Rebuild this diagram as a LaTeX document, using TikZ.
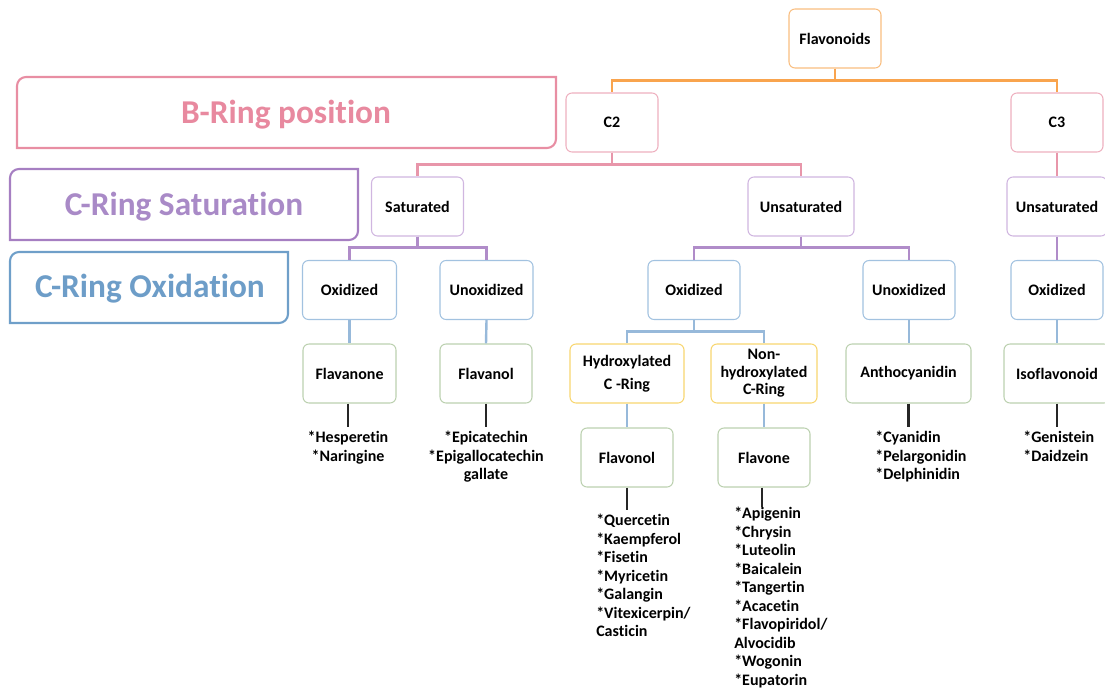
\documentclass[tikz,border=0pt]{standalone}
\usepackage{fontspec}
\setmainfont{Carlito}[Ligatures={NoCommon}]
\definecolor{orgB}{HTML}{F9BE80}
\definecolor{orgL}{HTML}{F9A44E}
\definecolor{pnkB}{HTML}{EEB0BF}
\definecolor{pnkL}{HTML}{E896AA}
\definecolor{purB}{HTML}{D0B6E0}
\definecolor{purL}{HTML}{B08CC9}
\definecolor{bluB}{HTML}{A2C2E0}
\definecolor{bluL}{HTML}{97B9DA}
\definecolor{grnB}{HTML}{BCD1B0}
\definecolor{ylwB}{HTML}{F8D670}
\definecolor{pnkT}{HTML}{E8899F}
\definecolor{purT}{HTML}{A98AC7}
\definecolor{bluT}{HTML}{6D9DC8}
\definecolor{pnkF}{HTML}{E88EA3}
\definecolor{purF}{HTML}{A67FC2}
\definecolor{bluF}{HTML}{6F9FC9}
\begin{document}
\begin{tikzpicture}[x=0.75pt,y=-0.75pt,
  box/.style={draw, fill=white, rounded corners=4.5pt, line width=0.8pt,
    align=center, inner sep=2pt, text=black,
    font=\fontsize{12}{13.2}\selectfont\bfseries, minimum height=44.25pt},
  bw/.style={minimum width=#1*0.75pt},
  conn/.style={line width=1.8pt},
  leaf/.style={line width=1.6pt, draw=black!85},
  list/.style={anchor=north, inner xsep=0pt, inner ysep=3pt, text=black,
    font=\fontsize{12}{13.9}\selectfont\bfseries},
  frame/.style={line width=1.6pt},
  bigtext/.style={anchor=base, font=\fontsize{25}{30}\selectfont\bfseries}
]
\useasboundingbox (0,0) rectangle (1105,688);

% level captions on the left
\draw[frame, pnkF] (17,148) -- (17,86) arc[start angle=180,end angle=270,radius=9]
  -- (556,77) -- (556,139) arc[start angle=0,end angle=90,radius=9] -- cycle;
\draw[frame, purF] (10,240) -- (10,178) arc[start angle=180,end angle=270,radius=9]
  -- (358,169) -- (358,231) arc[start angle=0,end angle=90,radius=9] -- cycle;
\draw[frame, bluF] (10,323) -- (10,261) arc[start angle=180,end angle=270,radius=9]
  -- (288,252) -- (288,314) arc[start angle=0,end angle=90,radius=9] -- cycle;
\node[bigtext, text=pnkT] (capB) at (286,123) {B-Ring position};
\node[bigtext, text=purT] (capS) at (184,215) {C-Ring Saturation};
\node[bigtext, text=bluT] (capO) at (150,297) {C-Ring Oxidation};

% tree nodes
\node[box, draw=orgB, bw=92] (flav) at (835,38.5) {Flavonoids};
\node[box, draw=pnkB, bw=92] (c2) at (612,122.5) {C2};
\node[box, draw=pnkB, bw=92] (c3) at (1057,122.5) {C3};

\node[box, draw=purB, bw=92] (sat) at (417.5,206.5) {Saturated};
\node[box, draw=purB, bw=106] (unsat) at (801,206.5) {Unsaturated};
\node[box, draw=purB, bw=100] (unsatb) at (1057,206.5) {Unsaturated};

\node[box, draw=bluB, bw=94] (oxa) at (349.5,290) {Oxidized};
\node[box, draw=bluB, bw=93] (unoxa) at (486.5,290) {Unoxidized};
\node[box, draw=bluB, bw=92] (oxb) at (694,290) {Oxidized};
\node[box, draw=bluB, bw=92] (unoxb) at (909,290) {Unoxidized};
\node[box, draw=bluB, bw=92] (oxc) at (1057,290) {Oxidized};

\node[box, draw=grnB, bw=93] (flavanone) at (349.5,373.5) {Flavanone};
\node[box, draw=grnB, bw=92] (flavanol) at (486,373.5) {Flavanol};
\node[box, draw=ylwB, bw=114] (hydrox) at (627,373.5) {Hydroxylated\\[4pt]C -Ring};
\node[box, draw=ylwB, bw=106] (nonhyd) at (764,373.5) {Non-\\hydroxylated\\C-Ring};
\node[box, draw=grnB, bw=125] (antho) at (908.5,373.5) {Anthocyanidin};
\node[box, draw=grnB, bw=106] (iso) at (1057,373.5) {Isoflavonoid};

\node[box, draw=grnB, bw=92] (flavonol) at (627,457.5) {Flavonol};
\node[box, draw=grnB, bw=92] (flavone) at (764,457.5) {Flavone};

% compound lists
\node[list, align=center] (lhesp) at (348,427) {*Hesperetin\\*Naringine};
\node[list, align=center] (lepi) at (486,427) {*Epicatechin\\*Epigallocatechin\\gallate};
\node[list, align=left, anchor=north west] (lquer) at (596,510)
  {*Quercetin\\*Kaempferol\\*Fisetin\\*Myricetin\\*Galangin\\*Vitexicerpin/\\Casticin};
\node[list, align=left, anchor=north west, inner ysep=0pt] (lapi) at (734,507)
  {*Apigenin\\*Chrysin\\*Luteolin\\*Baicalein\\*Tangertin\\*Acacetin\\*Flavopiridol/\\Alvocidib\\*Wogonin\\*Eupatorin};
\node[list, align=left, anchor=north west] (lcya) at (875,427) {*Cyanidin\\*Pelargonidin\\*Delphinidin};
\node[list, align=left, anchor=north west] (lgen) at (1023,427) {*Genistein\\*Daidzein};

% connectors
\draw[conn, orgL, line width=2.1pt] (flav.south) -- ++(0,12) -| (c2.north);
\draw[conn, orgL, line width=2.1pt] (flav.south) -- ++(0,12) -| (c3.north);

\draw[conn, pnkL] (c2.south) -- ++(0,12) -| (sat.north);
\draw[conn, pnkL] (c2.south) -- ++(0,12) -| (unsat.north);
\draw[conn, pnkL] (c3.south) -- (unsatb.north);

\draw[conn, purL] (sat.south) -- ++(0,11) -| (oxa.north);
\draw[conn, purL] (sat.south) -- ++(0,11) -| (unoxa.north);
\draw[conn, purL] (unsat.south) -- ++(0,11) -| (oxb.north);
\draw[conn, purL] (unsat.south) -- ++(0,11) -| (unoxb.north);
\draw[conn, purL] (unsatb.south) -- (oxc.north);

\draw[conn, bluL] (oxa.south) -- (flavanone.north);
\draw[conn, bluL] (unoxa.south) -- (flavanol.north);
\draw[conn, bluL] (oxb.south) -- ++(0,11.5) -| (hydrox.north);
\draw[conn, bluL] (oxb.south) -- ++(0,11.5) -| (nonhyd.north);
\draw[conn, bluL] (unoxb.south) -- (unoxb.south |- antho.north);
\draw[conn, bluL] (oxc.south) -- (iso.north);
\draw[conn, bluL] (hydrox.south) -- (flavonol.north);
\draw[conn, bluL] (nonhyd.south) -- (flavone.north);

\draw[leaf] (flavanone.south -| lhesp.north) -- (lhesp.north);
\draw[leaf] (flavanol.south) -- (lepi.north);
\draw[leaf] (flavonol.south) -- (flavonol.south |- lquer.north);
\draw[leaf] ([xshift=-1.5pt]flavone.south) -- ([xshift=-1.5pt]flavone.south |- lapi.north);
\draw[leaf] (antho.south) -- (antho.south |- lcya.north);
\draw[leaf] (iso.south) -- (iso.south |- lgen.north);
\end{tikzpicture}
\end{document}
